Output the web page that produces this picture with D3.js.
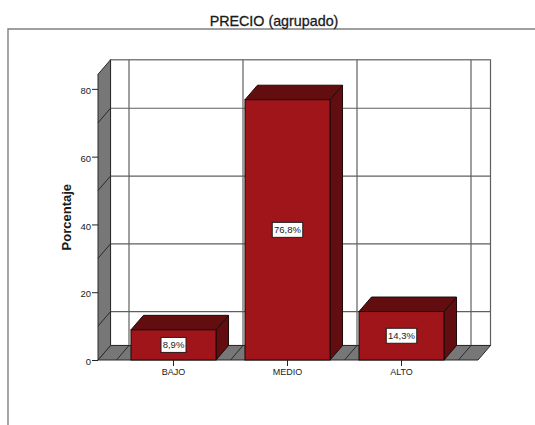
<!DOCTYPE html>
<html>
<head>
<meta charset="utf-8">
<script src="https://cdn.jsdelivr.net/npm/d3@7"></script>
<style>
  html, body { margin: 0; padding: 0; background: #fff; }
  svg { display: block; }
  text { font-family: "Liberation Sans", Arial, sans-serif; fill: #1a1a1a; }
</style>
</head>
<body>
<svg id="chart" width="535" height="425"></svg>
<script>
// Survey results: share of respondents per price group
const categories = ["BAJO", "MEDIO", "ALTO"];
const percentages = [8.9, 76.8, 14.3];
const valueLabels = ["8,9%", "76,8%", "14,3%"];
const yTicks = [0, 20, 40, 60, 80];
const gridValues = [10, 30, 50, 70];
const yTop = 84.3;

const titleText = "PRECIO (agrupado)";
const yTitle = "Porcentaje";

const barFront = "#a0151a";
const barDark = "#620e10";
const wallGrey = "#777777";
const gridGrey = "#5f5f5f";
const edgeDark = "#1c0a0a";

const svg = d3.select("#chart");

// Oblique projection: every depth step shifts right and up by this much
const depthX = 12.5, depthY = 14.5;

const y = d3.scaleLinear().domain([0, yTop]).range([360, 74.3]);
const x = d3.scaleBand()
  .domain(categories)
  .range([116.5, 458.5])
  .paddingInner(0.254)
  .paddingOuter(0.127);

const step = x.step();
const bandEdges = d3.range(categories.length + 1)
  .map(i => x(categories[0]) - x.step() * x.paddingInner() / 2 + i * step);

const floorLeft = 98, floorRight = 478;
const line = d3.line();
const poly = pts => line(pts) + "Z";
const back = ([px, py]) => [px + depthX, py - depthY];

// Outer frame, open towards the right and bottom of the page
svg.append("path")
  .attr("d", line([[8, 425], [8, 29], [535, 29]]))
  .attr("fill", "none").attr("stroke", "#808080").attr("stroke-width", 1.4);

svg.append("text")
  .attr("x", 274).attr("y", 25.5)
  .attr("text-anchor", "middle")
  .attr("font-size", 14.3)
  .attr("stroke", "#1a1a1a").attr("stroke-width", 0.3)
  .text(titleText);

// Back wall
const scene = svg.append("g");
scene.append("rect")
  .attr("x", floorLeft + depthX).attr("y", y(yTop) - depthY)
  .attr("width", floorRight - floorLeft).attr("height", y(0) - y(yTop))
  .attr("fill", "#fff").attr("stroke", gridGrey).attr("stroke-width", 1.2);

scene.selectAll("line.grid-h").data(gridValues).join("line")
  .attr("class", "grid-h")
  .attr("x1", floorLeft + depthX).attr("x2", floorRight + depthX)
  .attr("y1", d => y(d) - depthY).attr("y2", d => y(d) - depthY)
  .attr("stroke", gridGrey).attr("stroke-width", 1.2);

scene.selectAll("line.grid-v").data(bandEdges).join("line")
  .attr("class", "grid-v")
  .attr("x1", d => d + depthX).attr("x2", d => d + depthX)
  .attr("y1", y(yTop) - depthY).attr("y2", y(0) - depthY)
  .attr("stroke", gridGrey).attr("stroke-width", 1.2);

// Floor with the category boundaries running front to back
const oblique = svg.append("g");
oblique.append("path")
  .attr("d", poly([[floorLeft, y(0)], [floorRight, y(0)], back([floorRight, y(0)]), back([floorLeft, y(0)])]))
  .attr("fill", wallGrey).attr("stroke", "#2a2a2a").attr("stroke-width", 1);

oblique.selectAll("path.floor-edge").data(bandEdges).join("path")
  .attr("class", "floor-edge")
  .attr("d", d => line([[d, y(0)], back([d, y(0)])]))
  .attr("stroke", "#2a2a2a").attr("stroke-width", 1);

// Left wall with its gridlines
oblique.append("path")
  .attr("d", poly([[floorLeft, y(0)], back([floorLeft, y(0)]), back([floorLeft, y(yTop)]), [floorLeft, y(yTop)]]))
  .attr("fill", wallGrey).attr("stroke", "#2a2a2a").attr("stroke-width", 1);

oblique.selectAll("path.wall-grid").data(gridValues).join("path")
  .attr("class", "wall-grid")
  .attr("d", d => line([[floorLeft, y(d)], back([floorLeft, y(d)])]))
  .attr("stroke", "#2a2a2a").attr("stroke-width", 1);

// Bars: side and top faces first, then the front
const rows = categories.map((c, i) => ({ c, v: percentages[i], label: valueLabels[i] }));
const bars = svg.append("g").selectAll("g").data(rows).join("g");

bars.append("path")
  .attr("d", d => {
    const r = x(d.c) + x.bandwidth();
    return poly([[r, y(d.v)], back([r, y(d.v)]), back([r, y(0)]), [r, y(0)]]);
  })
  .attr("fill", barDark).attr("stroke", edgeDark).attr("stroke-width", 1);

bars.append("path")
  .attr("d", d => {
    const l = x(d.c), r = l + x.bandwidth();
    return poly([[l, y(d.v)], [r, y(d.v)], back([r, y(d.v)]), back([l, y(d.v)])]);
  })
  .attr("fill", barDark).attr("stroke", edgeDark).attr("stroke-width", 1);

bars.append("rect")
  .attr("x", d => x(d.c)).attr("y", d => y(d.v))
  .attr("width", x.bandwidth()).attr("height", d => y(0) - y(d.v))
  .attr("fill", barFront).attr("stroke", edgeDark).attr("stroke-width", 1);

// Value tags centred on each front face
const tags = bars.append("g")
  .attr("transform", d => `translate(${x(d.c) + x.bandwidth() / 2},${(y(d.v) + y(0)) / 2})`);
const tagWidth = d => d.label.length === 4 ? 25 : 30.5;
tags.append("rect")
  .attr("x", d => -tagWidth(d) / 2).attr("y", -7.5)
  .attr("width", tagWidth).attr("height", 15)
  .attr("fill", "#fff").attr("stroke", "#2a1a1a").attr("stroke-width", 1);
tags.append("text")
  .attr("text-anchor", "middle").attr("y", 3.4)
  .attr("font-size", 9.5)
  .text(d => d.label);

// Axes
const yAxis = svg.append("g")
  .attr("transform", `translate(${floorLeft},0)`)
  .call(d3.axisLeft(y).tickValues(yTicks).tickSize(6).tickPadding(1).tickFormat(d3.format("d")));
yAxis.select(".domain").remove();
yAxis.selectAll("line").attr("stroke", "#222");
yAxis.selectAll("text").attr("font-size", 9.5).attr("dy", "0.5em")
  .style("font-family", "'Liberation Sans', Arial, sans-serif");

const xAxis = svg.append("g")
  .attr("transform", `translate(0,${y(0)})`)
  .call(d3.axisBottom(x).tickSize(6).tickPadding(3));
xAxis.select(".domain").remove();
xAxis.selectAll("line").attr("stroke", "#222");
xAxis.selectAll("text").attr("font-size", 9)
  .style("font-family", "'Liberation Sans', Arial, sans-serif");

svg.append("text")
  .attr("transform", `translate(71,${(y(0) + y(yTop)) / 2}) rotate(-90)`)
  .attr("text-anchor", "middle")
  .attr("font-size", 13).attr("font-weight", "bold")
  .text(yTitle);
</script>
</body>
</html>
